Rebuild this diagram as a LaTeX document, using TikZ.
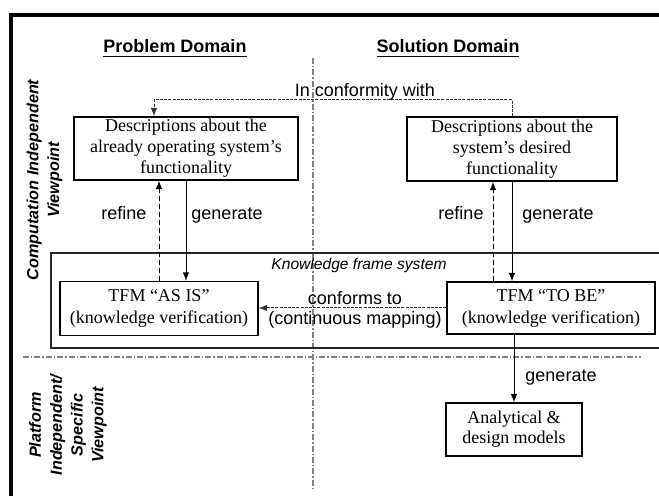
\documentclass[tikz,border=0pt]{standalone}
\usepackage{fontspec}
\setmainfont{Liberation Serif}
\setsansfont{Liberation Sans}
\usepackage{tikz}
\usetikzlibrary{positioning, arrows}

\tikzset{
  desc/.style = {draw, align=center, inner sep=0pt, line width=0.55pt, font=\fontsize{9}{10.5}\selectfont},
  lbl/.style = {font=\sffamily\fontsize{9}{11}\selectfont, inner sep=1pt, anchor=base},
  heading/.style = {font=\sffamily\bfseries\fontsize{9}{11}\selectfont, anchor=base},
  viewpoint/.style = {font=\sffamily\bfseries\itshape\fontsize{8.1}{10.4}\selectfont, rotate=90, align=center},
  divider/.style = {gray, line width=0.6pt, dash pattern=on 3pt off 1pt on 0.7pt off 1pt},
  refine/.style = {->, dash pattern=on 2.5pt off 1.5pt},
  conform/.style = {->, gray!40!black, dash pattern=on 1.5pt off 0.6pt},
}

\begin{document}
\begin{tikzpicture}[x=0.5pt, y=-0.5pt, >=latex, line width=0.5pt]
	\useasboundingbox (0,0) rectangle (659,496);
	
	% domains
	\node[heading] (prob) at (175,53) {\underline{Problem Domain}};
	\node[heading] (sol) at (448,53) {\underline{Solution Domain}};
	\draw[divider] (313,58) -- (313,488);
	\draw[divider] (23,357) -- (641,357);
	
	% knowledge frame
	\draw[gray!30!black, line width=0.7pt] (659,253) -| (51,348) -- (659,348);
	\node[lbl, font=\sffamily\itshape\fontsize{7.8}{9}\selectfont] (kfs) at (359,270) {Knowledge frame system};
	
	% boxes
	\node[desc, minimum width=112pt, minimum height=31.5pt] (asisdesc) at (186,148.5) {Descriptions about the\\already operating system’s\\functionality};
	\node[desc, minimum width=105pt, minimum height=32pt] (tobedesc) at (512,149) {Descriptions about the\\system’s desired\\functionality};
	\node[desc, minimum width=99pt, minimum height=27pt, font=\fontsize{9}{11}\selectfont] (asis) at (159,308.5) {TFM “AS IS”\\(knowledge verification)};
	\node[desc, minimum width=104pt, minimum height=26pt, font=\fontsize{9}{11}\selectfont] (tobe) at (551,308) {TFM “TO BE”\\(knowledge verification)};
	\node[desc, minimum width=68pt, minimum height=26.5pt, font=\fontsize{9}{10}\selectfont] (models) at (514,429.5) {Analytical \&\\design models};
	
	% in conformity
	\coordinate (corner) at (154,100);
	\draw[conform] (tobedesc.north) |- (corner) -- (corner |- asisdesc.north);
	\node[lbl] (conformity) at (365,97) {In conformity with};
	
	% left column
	\draw[refine] (asis.north) -- (asis.north |- asisdesc.south);
	\draw[->] (asisdesc.south) -- (asisdesc.south |- asis.north);
	\node[lbl] (refine1) at (124,220) {refine};
	\node[lbl] (gen1) at (227,220) {generate};
	
	% right column
	\path (tobedesc.south) ++(-19,0) coordinate (refinetop);
	\draw[refine] (refinetop |- tobe.north) -- (refinetop);
	\draw[->] (tobedesc.south) -- (tobedesc.south |- tobe.north);
	\node[lbl] (refine2) at (461,220) {refine};
	\node[lbl] (gen2) at (558,220) {generate};
	
	\draw[conform] (tobe.west) -- (tobe.west -| asis.east);
	\node[lbl] (conforms) at (355,305) {conforms to};
	\node[lbl] (mapping) at (355,325) {(continuous mapping)};
	
	\draw[->] (models.north |- tobe.south) -- (models.north);
	\node[lbl] (gen3) at (561,382) {generate};
	
	% viewpoints
	\node[viewpoint] (cim) at (44.5,180) {Computation Independent\\Viewpoint};
	\node[viewpoint] (pim) at (68,425) {Platform\\Independent/\\Specific\\Viewpoint};
	
	\draw[line width=2pt] (659,15) -- (11,15) -- (11,496);
\end{tikzpicture}
\end{document}
